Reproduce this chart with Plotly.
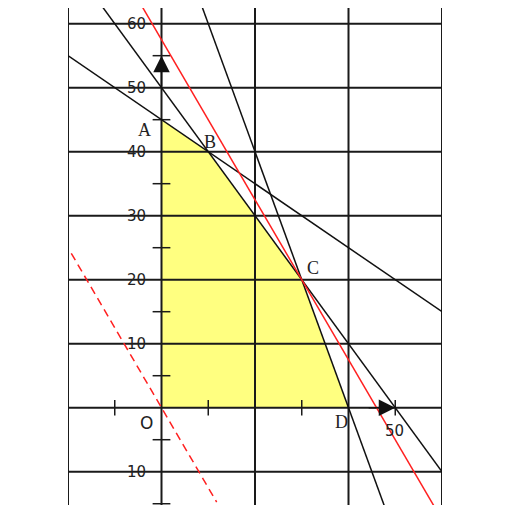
import plotly.graph_objects as go

# ---- data ----
x_grid = [-20, 0, 20, 40, 60]
y_grid = [-10, 0, 10, 20, 30, 40, 50, 60]
x_ticks = [-10, 10, 30, 50]
y_ticks = [-15, -5, 5, 15, 25, 35, 45, 55]
y_tick_labels = ["60", "50", "40", "30", "20", "10", "10"]
y_tick_label_vals = [60, 50, 40, 30, 20, 10, -10]

# feasible region vertices: O, A, B, C, D
region_x = [0, 0, 10, 30, 40]
region_y = [0, 45, 40, 20, 0]
point_names = ["O", "A", "B", "C", "D"]

# constraint lines  a*x + b*y = c
constraints = [(1, 2, 90), (1, 1, 50), (2, 1, 80)]
# objective line 5x + 4y = z
obj_a, obj_b = 5, 4
obj_best = 230

X_MIN, X_MAX = -20, 60
Y_MIN, Y_MAX = -15.2, 62.45

fig = go.Figure()

GRID = "#1a1a1a"

# grid lines
gx, gy = [], []
for v in x_grid:
    gx += [v, v, None]
    gy += [Y_MIN, Y_MAX, None]
for v in y_grid:
    gx += [X_MIN, X_MAX, None]
    gy += [v, v, None]

# feasible region
fig.add_trace(go.Scatter(x=region_x + [region_x[0]], y=region_y + [region_y[0]],
                         fill="toself", fillcolor="#ffff80", mode="none",
                         hoverinfo="skip"))

fig.add_trace(go.Scatter(x=gx, y=gy, mode="lines",
                         line=dict(color=GRID, width=2), hoverinfo="skip"))

# tick marks
tx, ty = [], []
for v in x_ticks:
    tx += [v, v, None]
    ty += [-1.2, 1.2, None]
for v in y_ticks:
    tx += [-1.9, 1.9, None]
    ty += [v, v, None]
fig.add_trace(go.Scatter(x=tx, y=ty, mode="lines",
                         line=dict(color=GRID, width=1.5), hoverinfo="skip"))

# constraint lines
for a, b, c in constraints:
    xs = [X_MIN - 20, X_MAX + 20]
    ys = [(c - a * x) / b for x in xs]
    fig.add_trace(go.Scatter(x=xs, y=ys, mode="lines",
                             line=dict(color="#111111", width=1.5),
                             hoverinfo="skip"))

# objective lines
xs = [X_MIN - 20, X_MAX + 20]
fig.add_trace(go.Scatter(x=xs, y=[(obj_best - obj_a * x) / obj_b for x in xs],
                         mode="lines", line=dict(color="#ff2020", width=1.5),
                         hoverinfo="skip"))
xs0 = [-19.3, 11.8]
fig.add_trace(go.Scatter(x=xs0, y=[(0 - obj_a * x) / obj_b for x in xs0],
                         mode="lines",
                         line=dict(color="#ff2020", width=1.5, dash="8px,5px"),
                         hoverinfo="skip"))

annotations = []
# y tick labels
for lab, v in zip(y_tick_labels, y_tick_label_vals):
    annotations.append(dict(x=-5.3, y=v, text=lab, showarrow=False,
                            xanchor="center", yanchor="middle",
                            font=dict(family="DejaVu Sans", size=15, color="#222")))
annotations.append(dict(x=49.8, y=-3.6, text="50", showarrow=False,
                        font=dict(family="DejaVu Sans", size=15, color="#222")))

# point labels
label_pos = {"O": (-3.2, -2.4), "A": (-3.6, 43.4), "B": (10.3, 41.5),
             "C": (32.5, 21.8), "D": (38.5, -2.2)}
for n in point_names:
    px, py = label_pos[n]
    annotations.append(dict(x=px, y=py, text=n, showarrow=False,
                            font=dict(family="Liberation Serif" if n != "O" else "DejaVu Sans",
                                      size=18 if n != "O" else 17, color="#222")))

# axis arrows
annotations.append(dict(x=0, y=55, ax=0, ay=50, axref="x", ayref="y",
                        xref="x", yref="y", showarrow=True, arrowhead=2,
                        arrowsize=2.2, arrowwidth=1.5, arrowcolor="#111",
                        text="", standoff=0))
annotations.append(dict(x=50, y=0, ax=44, ay=0, axref="x", ayref="y",
                        xref="x", yref="y", showarrow=True, arrowhead=2,
                        arrowsize=2.2, arrowwidth=1.5, arrowcolor="#111",
                        text="", standoff=0))

fig.update_layout(
    width=512, height=512,
    margin=dict(l=60, r=78, t=0, b=15),
    paper_bgcolor="white", plot_bgcolor="white",
    showlegend=False,
    xaxis=dict(range=[X_MIN, X_MAX], visible=False, fixedrange=True),
    yaxis=dict(range=[Y_MIN, Y_MAX], visible=False, fixedrange=True),
    annotations=annotations,
)

fig.write_html("out.html")
